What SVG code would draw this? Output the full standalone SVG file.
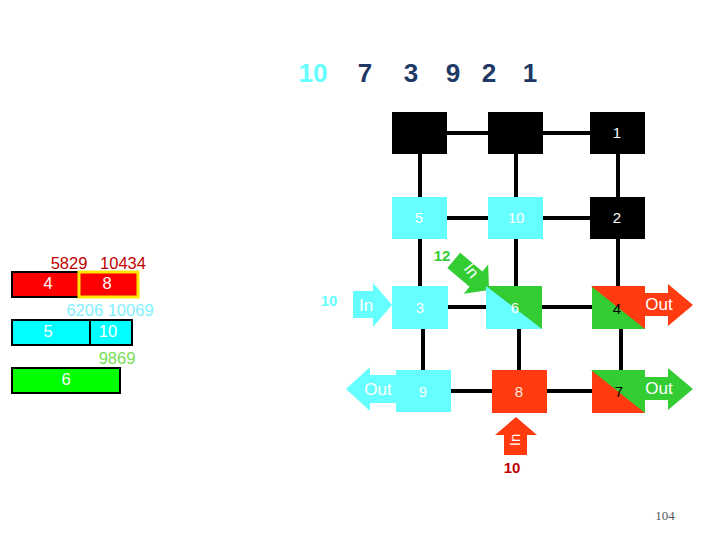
<svg xmlns="http://www.w3.org/2000/svg" width="720" height="540" viewBox="0 0 720 540">
<style>
.line{stroke:#000;stroke-width:4;fill:none}
.nt{font-family:"Liberation Sans",Arial,sans-serif;font-size:15px;text-anchor:middle}
.w{fill:#fff}
.k{fill:#000}
.cy{fill:#66FFFF}
.gr{fill:#33CC33}
.rd{fill:#FF3B0F}
.seq{font-family:"Liberation Sans",Arial,sans-serif;font-size:26px;font-weight:bold;text-anchor:middle;fill:#203864}
.bl{font-family:"Liberation Sans",Arial,sans-serif;font-size:16.5px;text-anchor:middle}
.at{font-family:"Liberation Sans",Arial,sans-serif;font-size:17px;text-anchor:middle;fill:#fff}
.lb{font-family:"Liberation Sans",Arial,sans-serif;font-size:15px;font-weight:bold;text-anchor:middle}
</style>
<rect width="720" height="540" fill="#fff"/>
<g id="sequence">
<text class="seq" x="313" y="82" style="fill:#66FFFF">10</text>
<text class="seq" x="365" y="82">7</text>
<text class="seq" x="411" y="82">3</text>
<text class="seq" x="453" y="82">9</text>
<text class="seq" x="489" y="82">2</text>
<text class="seq" x="530" y="82">1</text>
</g>
<g id="connectors">
<line class="line" x1="420" y1="133" x2="618" y2="133"/>
<line class="line" x1="420" y1="218" x2="618" y2="218"/>
<line class="line" x1="420" y1="307" x2="620" y2="307"/>
<line class="line" x1="423" y1="391" x2="620" y2="391"/>
<line class="line" x1="420" y1="133" x2="420" y2="307"/>
<line class="line" x1="423" y1="307" x2="423" y2="391"/>
<line class="line" x1="516" y1="133" x2="516" y2="307"/>
<line class="line" x1="519" y1="307" x2="519" y2="391"/>
<line class="line" x1="618" y1="133" x2="618" y2="307"/>
<line class="line" x1="621" y1="307" x2="621" y2="391"/>
</g>
<g id="arrow-in-cyan">
<polygon class="cy" points="353,291 373,291 373,283 392,305 373,327 373,318 353,318"/>
<text class="at" x="366" y="311">In</text>
<text class="lb" x="329" y="306" style="fill:#66FFFF">10</text>
</g>
<g id="arrow-out-cyan">
<polygon class="cy" points="346,389 370,367 370,375 398,375 398,403 370,403 370,411"/>
</g>
<g id="arrow-in-green">
<polygon class="gr" transform="translate(489,290) rotate(40)" points="-46,-10 -17,-10 -17,-19 0,0 -17,19 -17,10 -46,10"/>
<text class="at" x="0" y="0" transform="translate(467,274) rotate(52)" style="font-size:16px">In</text>
<text class="lb" x="442" y="261" style="fill:#33CC33">12</text>
</g>
<g id="arrow-in-red">
<polygon class="rd" points="516,417 537,435 527,435 527,455 504,455 504,435 495,435"/>
<text class="at" x="0" y="0" transform="translate(520,440) rotate(-90)" style="font-size:15px">In</text>
<text class="lb" x="512" y="473" style="fill:#C00000">10</text>
</g>
<g id="node-r1c1"><rect class="k" x="392" y="112" width="55" height="42"/></g>
<g id="node-r1c2"><rect class="k" x="488" y="112" width="55" height="42"/></g>
<g id="node-1"><rect class="k" x="590" y="112" width="55" height="42"/><text class="nt w" x="617" y="138">1</text></g>
<g id="node-5"><rect class="cy" x="392" y="197" width="55" height="42"/><text class="nt w" x="419" y="223">5</text></g>
<g id="node-10"><rect class="cy" x="488" y="197" width="55" height="42"/><text class="nt w" x="516" y="223">10</text></g>
<g id="node-2"><rect class="k" x="590" y="197" width="55" height="42"/><text class="nt w" x="617" y="223">2</text></g>
<g id="node-3"><rect class="cy" x="392" y="286" width="56" height="43"/><text class="nt w" x="420" y="313">3</text></g>
<g id="node-6"><rect class="cy" x="486" y="286" width="56" height="43"/><polygon class="gr" points="486,286 542,286 542,329"/><text class="nt w" x="515" y="313">6</text></g>
<g id="node-4"><rect class="gr" x="592" y="286" width="53" height="43"/><polygon class="rd" points="591,286 645,286 645,293 668,293 668,284 693,305 668,326 668,316 645,316 645,329"/><text class="nt k" x="617" y="314">4</text><text class="at" x="659" y="310">Out</text></g>
<g id="node-9"><rect class="cy" x="396" y="370" width="55" height="42"/><text class="nt w" x="423" y="397">9</text><text class="at" x="378" y="395">Out</text></g>
<g id="node-8"><rect class="rd" x="492" y="370" width="55" height="43"/><text class="nt" x="519" y="397" style="fill:#FFE8DC">8</text></g>
<g id="node-7"><rect class="rd" x="592" y="370" width="53" height="43"/><polygon class="gr" points="591,370 645,370 645,377 668,377 668,368 693,389 668,410 668,400 645,400 645,413"/><text class="nt k" x="619" y="397">7</text><text class="at" x="659" y="394">Out</text></g>
<g id="bar-red">
<text class="bl" x="69" y="269" style="fill:#C00000">5829</text>
<text class="bl" x="123" y="269" style="fill:#C00000">10434</text>
<rect x="12" y="272" width="67" height="25" fill="#FF0000" stroke="#000" stroke-width="2"/>
<rect x="79" y="272" width="59" height="25" fill="#FF0000" stroke="#FFE800" stroke-width="3"/>
<text class="bl" x="48" y="289" fill="#fff">4</text>
<text class="bl" x="107" y="289" fill="#fff">8</text>
</g>
<g id="bar-cyan">
<text class="bl" x="110" y="316" style="fill:#80F0FF">6206  10069</text>
<rect x="12" y="320" width="120" height="25" fill="#00FFFF" stroke="#000" stroke-width="2"/>
<line x1="90" y1="320" x2="90" y2="345" stroke="#000" stroke-width="2"/>
<text class="bl" x="48" y="337" fill="#fff">5</text>
<text class="bl" x="108" y="337" fill="#fff">10</text>
</g>
<g id="bar-green">
<text class="bl" x="117" y="364" style="fill:#77DD55">9869</text>
<rect x="12" y="368" width="108" height="25" fill="#00FF00" stroke="#000" stroke-width="2"/>
<text class="bl" x="66" y="385" fill="#fff">6</text>
</g>
<text x="665" y="520" font-family="'Liberation Serif',serif" font-size="13" fill="#555" text-anchor="middle">104</text>
</svg>
